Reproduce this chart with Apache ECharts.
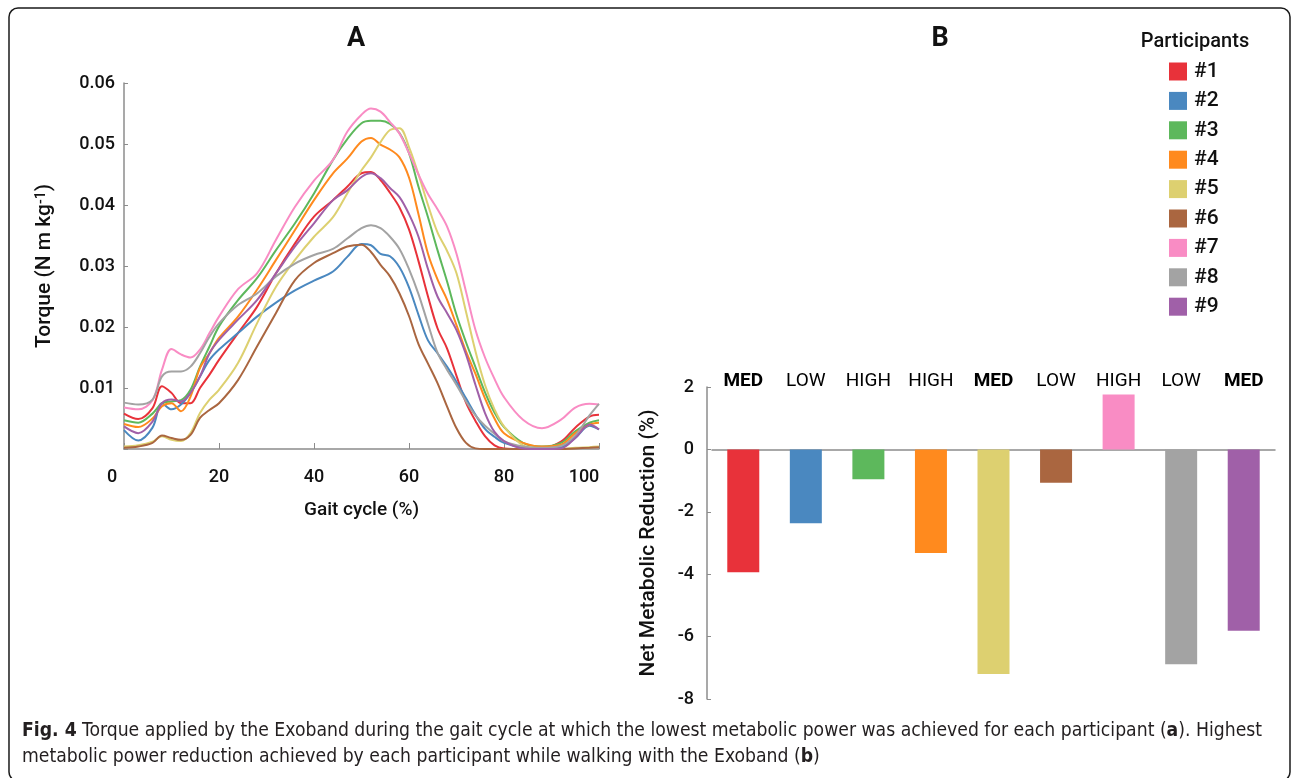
<!DOCTYPE html>
<html>
<head>
<meta charset="utf-8">
<script src="https://cdn.jsdelivr.net/npm/echarts@6/dist/echarts.min.js"></script>
<style>
  html, body { margin: 0; padding: 0; background: #ffffff; }
  #chart { width: 1292px; height: 778px; }
</style>
</head>
<body>
<div id="chart"></div>
<script>
// ---------------- DATA ----------------
const participants = ['#1', '#2', '#3', '#4', '#5', '#6', '#7', '#8', '#9'];
const colors = ['#E8323A', '#4A88C0', '#5DB85C', '#FF8A1E', '#DDD070', '#AA6640', '#F98CC4', '#A3A3A3', '#A060A8'];

// Panel A: gait cycle (%) sample points
const gaitCycle = [0, 3, 6, 8, 10, 12, 14, 16, 18, 20, 24, 28, 32, 36, 40, 44, 47, 50, 52, 54, 56, 58, 60, 62, 64, 66, 68, 70, 72, 74, 76, 78, 80, 84, 88, 92, 95, 98, 100];

// Torque (N m kg^-1) per participant
const torque1 = [0.0058, 0.0049, 0.0067, 0.0103, 0.0092, 0.0075, 0.0075, 0.0100, 0.0122, 0.0146, 0.0190, 0.0233, 0.0288, 0.0337, 0.0381, 0.0408, 0.0430, 0.0452, 0.0454, 0.0441, 0.0420, 0.0396, 0.0360, 0.0308, 0.0250, 0.0198, 0.0165, 0.0120, 0.0076, 0.0046, 0.0021, 0.0006, 0.0001, 0.0000, 0.0001, 0.0012, 0.0035, 0.0053, 0.0056];
const torque2 = [0.0031, 0.0014, 0.0035, 0.0075, 0.0065, 0.0073, 0.0092, 0.0119, 0.0146, 0.0163, 0.0190, 0.0217, 0.0240, 0.0260, 0.0276, 0.0291, 0.0315, 0.0336, 0.0334, 0.0320, 0.0316, 0.0298, 0.0265, 0.0220, 0.0178, 0.0157, 0.0135, 0.0110, 0.0083, 0.0056, 0.0033, 0.0020, 0.0010, 0.0002, 0.0000, 0.0003, 0.0018, 0.0038, 0.0032];
const torque3 = [0.0047, 0.0043, 0.0058, 0.0075, 0.0078, 0.0080, 0.0097, 0.0135, 0.0168, 0.0201, 0.0244, 0.0280, 0.0326, 0.0370, 0.0419, 0.0474, 0.0508, 0.0534, 0.0538, 0.0538, 0.0533, 0.0518, 0.0485, 0.0430, 0.0380, 0.0326, 0.0275, 0.0220, 0.0175, 0.0134, 0.0093, 0.0060, 0.0036, 0.0010, 0.0004, 0.0010, 0.0029, 0.0043, 0.0047];
const torque4 = [0.0041, 0.0036, 0.0050, 0.0070, 0.0075, 0.0062, 0.0086, 0.0133, 0.0157, 0.0182, 0.0217, 0.0261, 0.0310, 0.0359, 0.0408, 0.0452, 0.0476, 0.0504, 0.0510, 0.0499, 0.0491, 0.0478, 0.0445, 0.0385, 0.0320, 0.0278, 0.0245, 0.0203, 0.0160, 0.0123, 0.0083, 0.0050, 0.0026, 0.0010, 0.0004, 0.0007, 0.0026, 0.0040, 0.0043];
const torque5 = [0.0004, 0.0006, 0.0012, 0.0021, 0.0015, 0.0013, 0.0026, 0.0059, 0.0081, 0.0097, 0.0141, 0.0206, 0.0266, 0.0310, 0.0348, 0.0380, 0.0419, 0.0457, 0.0478, 0.0503, 0.0523, 0.0526, 0.0495, 0.0450, 0.0400, 0.0355, 0.0325, 0.0288, 0.0225, 0.0160, 0.0105, 0.0065, 0.0037, 0.0006, 0.0001, 0.0000, 0.0002, 0.0003, 0.0004];
const torque6 = [0.0002, 0.0004, 0.0010, 0.0022, 0.0018, 0.0015, 0.0023, 0.0051, 0.0064, 0.0075, 0.0113, 0.0168, 0.0223, 0.0277, 0.0305, 0.0321, 0.0332, 0.0335, 0.0323, 0.0302, 0.0283, 0.0255, 0.0218, 0.0172, 0.0140, 0.0108, 0.0070, 0.0034, 0.0010, 0.0001, 0.0000, 0.0000, 0.0000, 0.0000, 0.0000, 0.0000, 0.0001, 0.0002, 0.0003];
const torque7 = [0.0068, 0.0065, 0.0080, 0.0130, 0.0164, 0.0155, 0.0150, 0.0163, 0.0190, 0.0217, 0.0262, 0.0288, 0.0343, 0.0397, 0.0440, 0.0474, 0.0520, 0.0548, 0.0558, 0.0553, 0.0536, 0.0517, 0.0485, 0.0450, 0.0418, 0.0393, 0.0365, 0.0320, 0.0258, 0.0195, 0.0150, 0.0115, 0.0085, 0.0048, 0.0034, 0.0048, 0.0068, 0.0074, 0.0073];
const torque8 = [0.0076, 0.0073, 0.0081, 0.0119, 0.0127, 0.0127, 0.0135, 0.0157, 0.0184, 0.0206, 0.0236, 0.0255, 0.0283, 0.0304, 0.0318, 0.0328, 0.0345, 0.0362, 0.0367, 0.0362, 0.0348, 0.0328, 0.0295, 0.0254, 0.0205, 0.0158, 0.0130, 0.0105, 0.0078, 0.0055, 0.0038, 0.0025, 0.0013, 0.0004, 0.0002, 0.0005, 0.0022, 0.0055, 0.0074];
const torque9 = [0.0037, 0.0026, 0.0045, 0.0075, 0.0081, 0.0078, 0.0092, 0.0119, 0.0157, 0.0179, 0.0212, 0.0244, 0.0288, 0.0332, 0.0370, 0.0408, 0.0424, 0.0446, 0.0452, 0.0444, 0.0428, 0.0413, 0.0385, 0.0348, 0.0295, 0.0250, 0.0223, 0.0195, 0.0155, 0.0105, 0.0059, 0.0028, 0.0013, 0.0001, 0.0000, 0.0001, 0.0018, 0.0040, 0.0032];
const torqueSeries = [torque1, torque2, torque3, torque4, torque5, torque6, torque7, torque8, torque9];

// Panel A axis ticks
const torqueTicks = { min: 0, max: 0.06, interval: 0.01 };
const gaitTicks = { min: 0, max: 100, interval: 20 };

// Panel B: net metabolic reduction (%) per participant and assistance level
const netMetabolicReduction = [-3.94, -2.37, -0.96, -3.32, -7.20, -1.07, 1.76, -6.89, -5.81];
const assistanceLevel = ['MED', 'LOW', 'HIGH', 'HIGH', 'MED', 'LOW', 'HIGH', 'LOW', 'MED'];
const reductionTicks = { min: -8, max: 2, interval: 2 };

// ---------------- CHART ----------------
const FONT = 'Roboto';
const CAPTION_FONT = '"DejaVu Sans Condensed", sans-serif';
const chart = echarts.init(document.getElementById('chart'), null, { renderer: 'canvas' });

const lineSeries = participants.map((name, i) => ({
  name: name,
  type: 'line',
  xAxisIndex: 0,
  yAxisIndex: 0,
  smooth: 0.35,
  symbol: 'none',
  lineStyle: { width: 2, color: colors[i] },
  itemStyle: { color: colors[i] },
  data: gaitCycle.map((x, j) => [x, torqueSeries[i][j]]),
  z: 3
}));

const barSeries = participants.map((name, i) => ({
  name: name,
  type: 'bar',
  xAxisIndex: 1,
  yAxisIndex: 1,
  barWidth: 32,
  barGap: '-100%',
  itemStyle: { color: colors[i] },
  data: participants.map((p, j) => (j === i ? netMetabolicReduction[i] : '-'))
}));

const axisGrey = '#8c8c8c';

const option = {
  backgroundColor: '#ffffff',
  animation: false,
  textStyle: { fontFamily: FONT },
  title: [
    { text: 'A', left: 351, top: 21, textAlign: 'center',
      textStyle: { fontFamily: FONT, fontSize: 27, fontWeight: 'bold', color: '#111' } },
    { text: 'B', left: 935, top: 21, textAlign: 'center',
      textStyle: { fontFamily: FONT, fontSize: 27, fontWeight: 'bold', color: '#111' } },
    { text: 'Participants', left: 1190, top: 27, textAlign: 'center',
      textStyle: { fontFamily: FONT, fontSize: 20, fontWeight: 500, color: '#111' } }
  ],
  legend: {
    data: participants,
    orient: 'vertical',
    left: 1169,
    top: 61,
    padding: 0,
    itemWidth: 18,
    itemHeight: 18,
    itemGap: 8.4,
    icon: 'rect',
    selectedMode: false,
    textStyle: { fontFamily: FONT, fontSize: 21, fontWeight: 500, color: '#111', padding: [0, 0, 0, 2] }
  },
  grid: [
    { left: 124, right: 693, top: 83, bottom: 329 },
    { left: 712, right: 17, top: 387, bottom: 79 }
  ],
  xAxis: [
    {
      gridIndex: 0,
      type: 'value',
      min: gaitTicks.min, max: gaitTicks.max, interval: gaitTicks.interval,
      name: 'Gait cycle (%)',
      nameLocation: 'middle',
      nameGap: 52,
      nameTextStyle: { fontFamily: FONT, fontSize: 19, fontWeight: 500, color: '#111' },
      axisLine: { lineStyle: { color: axisGrey, width: 1.5 } },
      axisTick: { show: true, inside: true, length: 6, lineStyle: { color: axisGrey, width: 1 } },
      splitLine: { show: false },
      axisLabel: {
        margin: 19,
        color: '#111',
        fontFamily: FONT,
        fontSize: 18,
        fontWeight: 500,
        formatter: function (v) {
          if (v === gaitTicks.min) return '{l0|' + v + '}';
          if (v === gaitTicks.max) return '{l1|' + v + '}';
          return '{n|' + v + '}';
        },
        rich: {
          n: { fontFamily: FONT, fontSize: 18, fontWeight: 500, color: '#111' },
          l0: { fontFamily: FONT, fontSize: 18, fontWeight: 500, color: '#111', padding: [0, 24, 0, 0] },
          l1: { fontFamily: FONT, fontSize: 18, fontWeight: 500, color: '#111', padding: [0, 30, 0, 0] }
        }
      }
    },
    {
      gridIndex: 1,
      type: 'category',
      data: participants,
      axisLine: { onZero: true, lineStyle: { color: axisGrey, width: 1.5 } },
      axisTick: { show: false },
      axisLabel: { show: false },
      splitLine: { show: false }
    },
    {
      gridIndex: 1,
      type: 'category',
      position: 'top',
      data: assistanceLevel,
      axisLine: { show: false },
      axisTick: { show: false },
      splitLine: { show: false },
      axisLabel: {
        margin: -4,
        interval: 0,
        formatter: function (v) { return v === 'MED' ? '{b|' + v + '}' : '{r|' + v + '}'; },
        rich: {
          b: { fontFamily: FONT, fontSize: 19, fontWeight: 'bold', color: '#000' },
          r: { fontFamily: FONT, fontSize: 19, fontWeight: 400, color: '#000' }
        }
      }
    }
  ],
  yAxis: [
    {
      gridIndex: 0,
      type: 'value',
      min: torqueTicks.min, max: torqueTicks.max, interval: torqueTicks.interval,
      name: '{t|Torque (N m kg}{s|-1}{t|)}',
      nameLocation: 'middle',
      nameGap: 68,
      nameRotate: 90,
      nameTextStyle: {
        rich: {
          t: { fontFamily: FONT, fontSize: 21, fontWeight: 500, color: '#111' },
          s: { fontFamily: FONT, fontSize: 14, fontWeight: 500, color: '#111', verticalAlign: 'top', padding: [0, 0, 8, 0] }
        }
      },
      axisLine: { show: true, lineStyle: { color: axisGrey, width: 1.5 } },
      axisTick: { show: true, inside: true, length: 4, lineStyle: { color: axisGrey, width: 1 } },
      splitLine: { show: false },
      axisLabel: {
        margin: 9,
        color: '#111',
        fontFamily: FONT,
        fontSize: 18,
        fontWeight: 500,
        formatter: function (v) { return v === 0 ? '' : v.toFixed(2); }
      }
    },
    {
      gridIndex: 1,
      type: 'value',
      min: reductionTicks.min, max: reductionTicks.max, interval: reductionTicks.interval,
      offset: 5,
      name: 'Net Metabolic Reduction (%)',
      nameLocation: 'middle',
      nameGap: 48,
      nameRotate: 90,
      nameTextStyle: { fontFamily: FONT, fontSize: 21, fontWeight: 500, color: '#111' },
      axisLine: { show: true, lineStyle: { color: axisGrey, width: 1.5 } },
      axisTick: { show: true, inside: true, length: 4, lineStyle: { color: axisGrey, width: 1 } },
      splitLine: { show: false },
      axisLabel: { margin: 13, color: '#111', fontFamily: FONT, fontSize: 18, fontWeight: 500 }
    }
  ],
  graphic: [
    {
      type: 'rect',
      shape: { x: 9, y: 8, width: 1281, height: 773, r: 9 },
      style: { fill: 'none', stroke: '#1a1a1a', lineWidth: 1.5 },
      silent: true
    },
    {
      type: 'text',
      left: 22, top: 722,
      style: {
        text: '{b|Fig. 4} Torque applied by the Exoband during the gait cycle at which the lowest metabolic power was achieved for each participant ({b|a}). Highest',
        font: '19.2px ' + CAPTION_FONT,
        fill: '#231f20',
        rich: {
          b: { font: 'bold 19.2px ' + CAPTION_FONT, fill: '#231f20' }
        }
      }
    },
    {
      type: 'text',
      left: 22, top: 748,
      style: {
        text: 'metabolic power reduction achieved by each participant while walking with the Exoband ({b|b})',
        font: '19.2px ' + CAPTION_FONT,
        fill: '#231f20',
        rich: {
          b: { font: 'bold 19.2px ' + CAPTION_FONT, fill: '#231f20' }
        }
      }
    }
  ],
  series: lineSeries.concat(barSeries)
};

chart.setOption(option);
</script>
</body>
</html>
